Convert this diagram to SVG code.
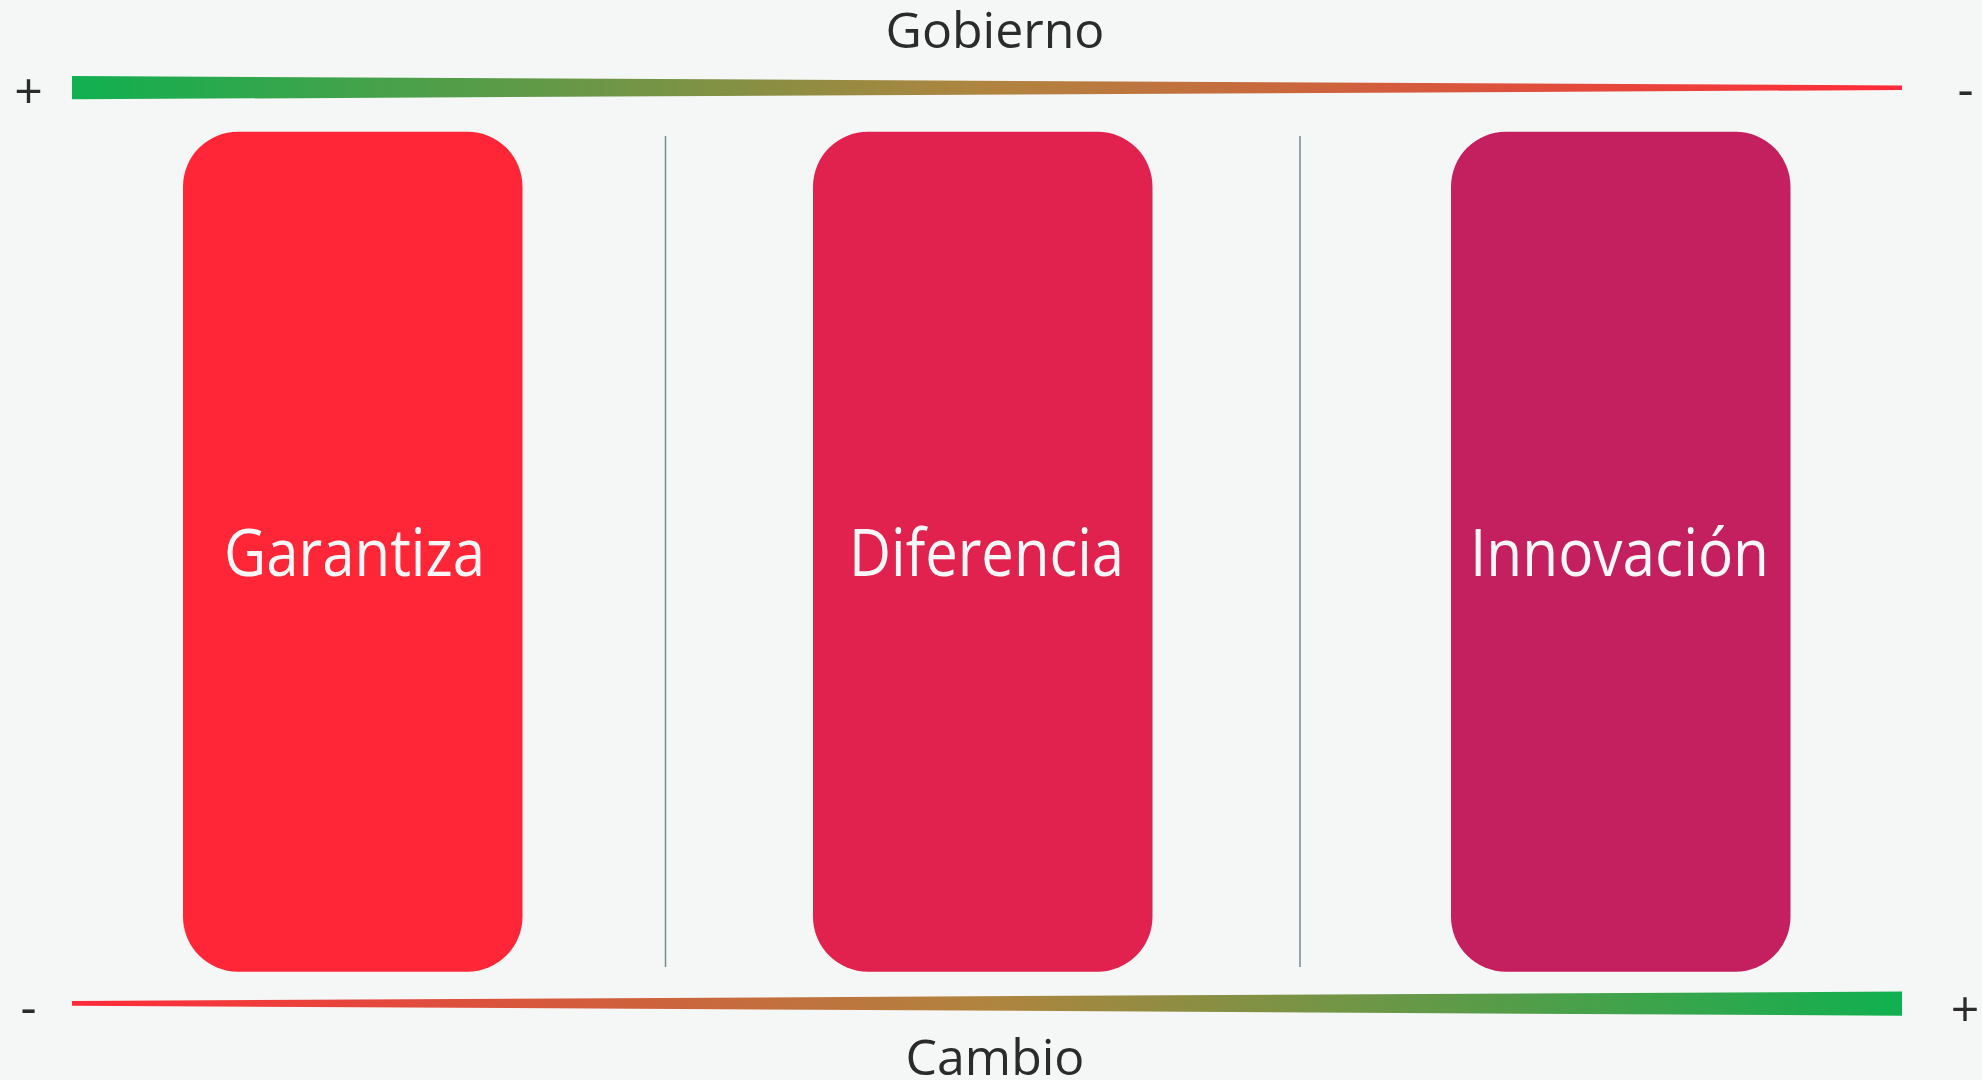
<svg xmlns="http://www.w3.org/2000/svg" width="1982" height="1080" viewBox="0 0 1982 1080">
<style>
.lbl{font-family:"Open Sans","Noto Sans","Liberation Sans",sans-serif;fill:#2b2b2b;font-size:50px;text-anchor:middle}
.node-text{font-family:"Open Sans","Noto Sans","Liberation Sans",sans-serif;fill:#f7f7f7;font-size:65px;text-anchor:middle}
.sep{stroke:#6d8f90;stroke-width:1.5}
</style>
<defs>
<linearGradient id="gr" x1="72" y1="0" x2="1902" y2="0" gradientUnits="userSpaceOnUse">
<stop offset="0" stop-color="#10b050"/>
<stop offset="0.5" stop-color="#b0843f"/>
<stop offset="1" stop-color="#ff2a3a"/>
</linearGradient>
<linearGradient id="rg" x1="72" y1="0" x2="1902" y2="0" gradientUnits="userSpaceOnUse">
<stop offset="0" stop-color="#ff2a3a"/>
<stop offset="0.5" stop-color="#b0843f"/>
<stop offset="1" stop-color="#10b050"/>
</linearGradient>
</defs>
<rect width="1982" height="1080" fill="#f5f7f6"/>
<g id="axis-top">
<polygon points="72,76 1902,85.5 1902,90 72,99.3" fill="url(#gr)"/>
<text class="lbl" x="995" y="47.5">Gobierno</text>
<text class="lbl" x="28.5" y="109">+</text>
<text class="lbl" x="1965.5" y="107">-</text>
</g>
<g id="axis-bottom">
<polygon points="72,1001 1902,991.5 1902,1015.7 72,1005.7" fill="url(#rg)"/>
<text class="lbl" x="995" y="1075">Cambio</text>
<text class="lbl" x="28.5" y="1025">-</text>
<text class="lbl" x="1965" y="1027">+</text>
</g>
<g id="connectors">
<line class="sep" x1="665.5" y1="136" x2="665.5" y2="967"/>
<line class="sep" x1="1300" y1="136" x2="1300" y2="967"/>
</g>
<g id="node-garantiza">
<rect x="183" y="131.7" width="339.5" height="840" rx="55" fill="#ff2637"/>
<text class="node-text" x="354.5" y="575.5" textLength="261" lengthAdjust="spacingAndGlyphs">Garantiza</text>
</g>
<g id="node-diferencia">
<rect x="813" y="131.7" width="339.5" height="840" rx="55" fill="#e1224e"/>
<text class="node-text" x="986.5" y="575.5" textLength="275" lengthAdjust="spacingAndGlyphs">Diferencia</text>
</g>
<g id="node-innovacion">
<rect x="1451" y="131.7" width="339.5" height="840" rx="55" fill="#c42060"/>
<text class="node-text" x="1619.5" y="575.5" textLength="299" lengthAdjust="spacingAndGlyphs">Innovación</text>
</g>
</svg>
